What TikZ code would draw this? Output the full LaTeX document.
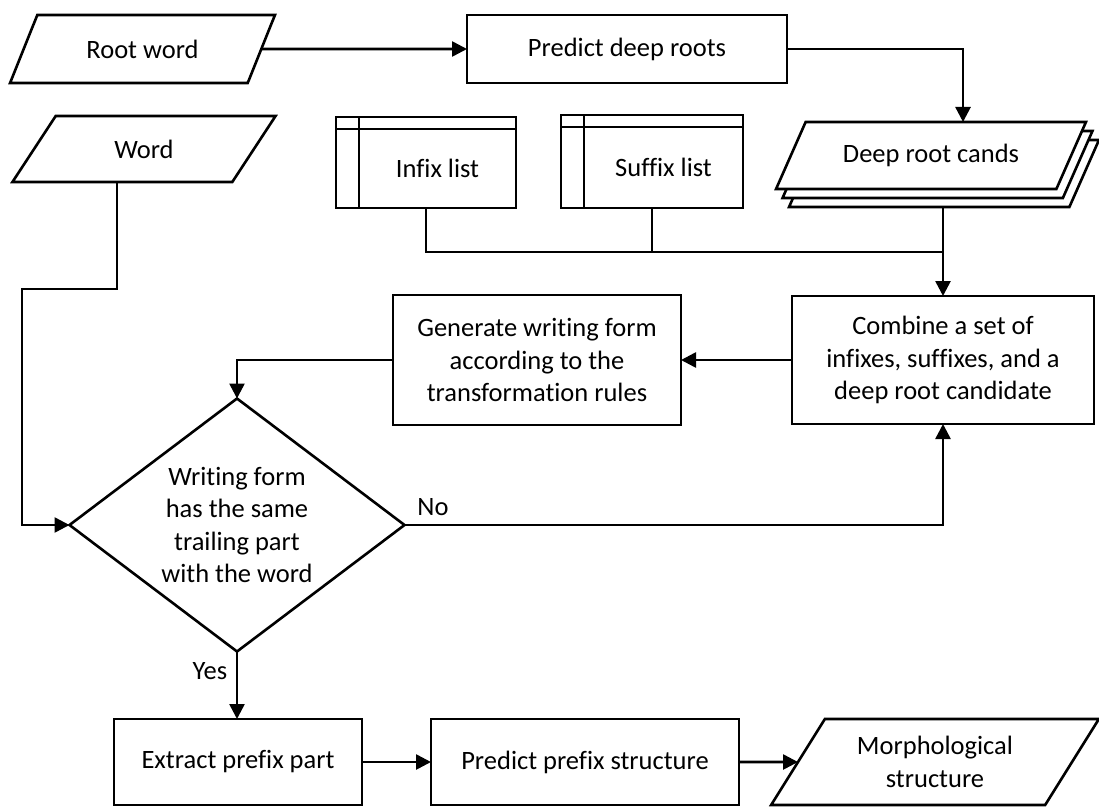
\documentclass[tikz,border=0pt]{standalone}
\usepackage{fontspec}
\setmainfont{Carlito}[Ligatures={NoCommon}]
\usetikzlibrary{shapes.geometric,arrows.meta,shadows,calc}
\begin{document}
\begin{tikzpicture}[x=1pt,y=-1pt,
  every node/.style={font=\fontsize{26.5}{32.5}\selectfont},
  base/.style={draw, line width=2.6pt, fill=white, inner sep=0pt, outer sep=0pt, align=center},
  procbox/.style={base, rectangle},
  iobox/.style={base, trapezium, trapezium stretches=true},
  storebox/.style={base, rectangle, path picture={
      \draw[line width=2.6pt]
        ($(path picture bounding box.north west)+(0,12)$) -- ($(path picture bounding box.north east)+(0,12)$)
        ($(path picture bounding box.north west)+(23,0)$) -- ($(path picture bounding box.south west)+(23,0)$);}},
  decbox/.style={base, diamond},
  conn/.style={line width=2.6pt},
  arr/.style={conn, -{Triangle[length=15pt,width=15pt]}}
]
\useasboundingbox (0,0) rectangle (1099,806);
\fill[white] (0,0) rectangle (1099,806);

% nodes
\node[iobox, trapezium left angle=52, trapezium right angle=128, minimum width=265, minimum height=68] (root) at (142.5,49) {Root word};
\node[iobox, trapezium left angle=52, trapezium right angle=128, minimum width=264, minimum height=66] (word) at (144,149) {Word};
\node[procbox, minimum width=320, minimum height=68] (pred) at (627,49) {Predict deep roots};
\node[storebox, minimum width=180, minimum height=91, label={[xshift=11.5pt,yshift=-6pt]center:Infix list}] (infix) at (426,162.5) {};
\node[storebox, minimum width=182, minimum height=93, label={[xshift=11.5pt,yshift=-6pt]center:Suffix list}] (suffix) at (652,161.5) {};
\node[iobox, trapezium left angle=47.5, trapezium right angle=132.5, minimum width=310, minimum height=67,
      double copy shadow={shadow xshift=6.5pt, shadow yshift=-9pt}] (cands) at (931,155.5) {Deep root cands};
\node[procbox, minimum width=302, minimum height=128] (comb) at (943,360) {Combine a set of\\infixes, suffixes, and a\\deep root candidate};
\node[procbox, minimum width=288, minimum height=130] (gen) at (537,360) {Generate writing form\\according to the\\transformation rules};
\node[decbox, minimum width=335, minimum height=253,
      label={[align=center]center:Writing form\\has the same\\trailing part\\with the word}] (dia) at (237,525) {};
\node[procbox, minimum width=248, minimum height=86] (ext) at (238,762) {Extract prefix part};
\node[procbox, minimum width=308, minimum height=86] (pp) at (585,762) {Predict prefix structure};
\node[iobox, trapezium left angle=53.3, trapezium right angle=126.7, minimum width=328, minimum height=86] (morph) at (935,762) {Morphological\\structure};
\node (yes) at (210,671) {Yes};
\node (no) at (433,507) {No};

% connectors
\coordinate (jn) at (943,252);
\coordinate (wb) at (117,289);
\coordinate (wl) at (22,289);
\draw[arr] (root) -- (pred);
\draw[arr] (pred.east) -| ([xshift=32pt]cands.north);
\draw[conn] (infix.south) |- (jn);
\draw[conn] (suffix.south) -- (suffix.south |- jn);
\draw[arr] ($(cands.south -| comb.north)+(0,18)$) -- (comb.north);
\draw[arr] (comb.west) -- (gen.east);
\draw[arr] (gen.west) -| (dia.north);
\draw[arr] (word.south -| wb) -- (wb) -- (wl) |- (dia.west);
\draw[arr] (dia.east) -| (comb.south);
\draw[arr] (dia.south) -- (dia.south |- ext.north);
\draw[arr] (ext.east) -- (pp.west);
\draw[arr] (pp.east) -- (morph);
\end{tikzpicture}
\end{document}
